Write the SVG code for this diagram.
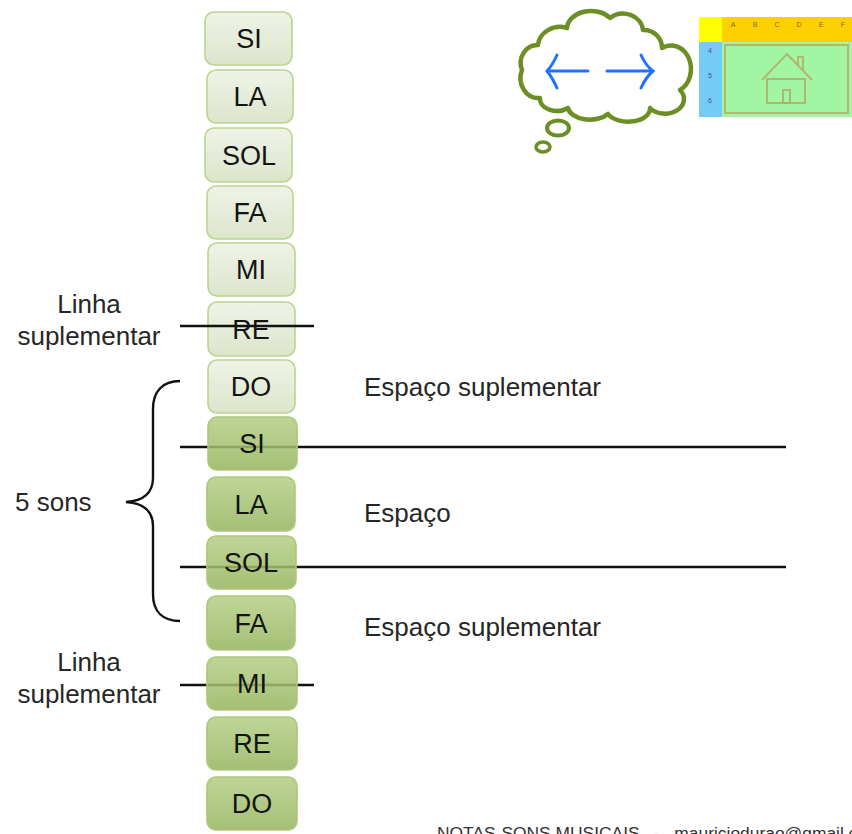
<svg xmlns="http://www.w3.org/2000/svg" width="852" height="834" viewBox="0 0 852 834">
  <defs>
    <linearGradient id="gLight" x1="0" y1="0" x2="0" y2="1">
      <stop offset="0" stop-color="#eff3e7"/>
      <stop offset="1" stop-color="#dce5cb"/>
    </linearGradient>
    <linearGradient id="gDark" x1="0" y1="0" x2="0" y2="1">
      <stop offset="0" stop-color="#b4ce84"/>
      <stop offset="1" stop-color="#95b45e"/>
    </linearGradient>
    <style>
      text { font-family: "Liberation Sans", Arial, sans-serif; }
      .light rect { fill: url(#gLight); stroke: #b9d58f; stroke-width: 1.6; }
      .dark rect { fill: url(#gDark); fill-opacity: 0.85; stroke: #aac97a; stroke-width: 1.6; }
      .lbl { font-size: 27px; fill: #141414; text-anchor: middle; }
      .note { font-size: 26px; fill: #262626; }
      .staff { stroke: #111; stroke-width: 2.4; fill: none; }
      .cell { font-size: 7px; fill: #7a6a40; text-anchor: middle; }
      .row { font-size: 7px; fill: #3a5a80; text-anchor: middle; }
    </style>
  </defs>

  <rect width="852" height="834" fill="#ffffff"/>

  <!-- upper notes (ledger region) -->
  <g id="n-si-hi" class="light"><rect x="205" y="12" width="87" height="53" rx="9"/><text class="lbl" x="249" y="48">SI</text></g>
  <g id="n-la-hi" class="light"><rect x="207" y="70" width="86" height="53" rx="9"/><text class="lbl" x="250" y="106">LA</text></g>
  <g id="n-sol-hi" class="light"><rect x="205" y="128" width="87" height="54" rx="9"/><text class="lbl" x="249" y="165">SOL</text></g>
  <g id="n-fa-hi" class="light"><rect x="207" y="186" width="86" height="53" rx="9"/><text class="lbl" x="250" y="222">FA</text></g>
  <g id="n-mi-hi" class="light"><rect x="208" y="243" width="87" height="53" rx="9"/><text class="lbl" x="251" y="279">MI</text></g>
  <g id="n-re-hi" class="light"><rect x="208" y="302" width="87" height="54" rx="9"/><text class="lbl" x="251" y="339">RE</text></g>
  <g id="n-do-hi" class="light"><rect x="208" y="360" width="87" height="53" rx="9"/><text class="lbl" x="251" y="396">DO</text></g>

  <!-- staff lines, ledger lines and the brace -->
  <g id="connectors">
    <line class="staff" x1="180" y1="326" x2="314" y2="326"/>
    <line class="staff" x1="180" y1="447" x2="786" y2="447"/>
    <line class="staff" x1="180" y1="567" x2="786" y2="567"/>
    <line class="staff" x1="180" y1="685" x2="314" y2="685"/>
    <path class="staff" d="M180,381 C163,381 153,391 153,409 L153,478 C153,493 143,501 126,502 C143,503 153,511 153,526 L153,594 C153,612 163,621 180,621"/>
  </g>

  <!-- lower notes -->
  <g id="n-si" class="dark"><rect x="208" y="417" width="89" height="53" rx="9"/><text class="lbl" x="252" y="453">SI</text></g>
  <g id="n-la" class="dark"><rect x="207" y="477" width="88" height="54" rx="9"/><text class="lbl" x="251" y="514">LA</text></g>
  <g id="n-sol" class="dark"><rect x="207" y="536" width="89" height="53" rx="9"/><text class="lbl" x="251" y="572">SOL</text></g>
  <g id="n-fa" class="dark"><rect x="207" y="596" width="88" height="54" rx="9"/><text class="lbl" x="251" y="633">FA</text></g>
  <g id="n-mi" class="dark"><rect x="207" y="657" width="90" height="53" rx="9"/><text class="lbl" x="252" y="693">MI</text></g>
  <g id="n-re" class="dark"><rect x="207" y="717" width="90" height="53" rx="9"/><text class="lbl" x="252" y="753">RE</text></g>
  <g id="n-do" class="dark"><rect x="207" y="777" width="90" height="53" rx="9"/><text class="lbl" x="252" y="813">DO</text></g>

  <!-- side labels -->
  <g id="labels">
    <text class="note" x="89" y="313" text-anchor="middle">Linha</text>
    <text class="note" x="89" y="345" text-anchor="middle">suplementar</text>
    <text class="note" x="89" y="671" text-anchor="middle">Linha</text>
    <text class="note" x="89" y="703" text-anchor="middle">suplementar</text>
    <text class="note" x="15" y="511">5 sons</text>
    <text class="note" x="364" y="396">Espaço suplementar</text>
    <text class="note" x="364" y="522">Espaço</text>
    <text class="note" x="364" y="636">Espaço suplementar</text>
  </g>

  <!-- thought cloud with arrows -->
  <g id="cloud">
    <path d="M540,98 A18,20 0 0 1 522,70 A17,18 0 0 1 538,45 A22,20 0 0 1 567,28 A24,18 0 0 1 610,18 A20,18 0 0 1 643,30 A18,18 0 0 1 662,48 A17,20 0 0 1 680,90 A18,14 0 0 1 650,108 A22,13 0 0 1 608,114 A22,13 0 0 1 568,108 A17,12 0 0 1 540,98 Z" fill="#ffffff" stroke="#6b8f24" stroke-width="4.5" stroke-linejoin="round"/>
    <ellipse cx="558" cy="128" rx="11" ry="7.5" fill="none" stroke="#6b8f24" stroke-width="4"/>
    <ellipse cx="543" cy="147" rx="7" ry="5" fill="none" stroke="#6b8f24" stroke-width="3.5"/>
    <g fill="none" stroke="#1f72ff" stroke-width="3" stroke-linecap="round">
      <line x1="588" y1="71" x2="548" y2="71"/>
      <path d="M557,55 Q552,66 547,71 Q552,77 557,88"/>
      <line x1="607" y1="71" x2="652" y2="71"/>
      <path d="M641,55 Q646,66 653,71 Q646,77 641,88"/>
    </g>
  </g>

  <!-- spreadsheet sketch with a house -->
  <g id="sheet">
    <rect x="699" y="17" width="153" height="100" fill="#a2f5a2"/>
    <rect x="699" y="17" width="153" height="25" fill="#ffd000"/>
    <rect x="699" y="17" width="23" height="25" fill="#ffff00"/>
    <rect x="699" y="42" width="23" height="75" fill="#74cbf6"/>
    <text class="cell" x="733" y="27">A</text>
    <text class="cell" x="755" y="27">B</text>
    <text class="cell" x="777" y="27">C</text>
    <text class="cell" x="799" y="27">D</text>
    <text class="cell" x="821" y="27">E</text>
    <text class="cell" x="843" y="27">F</text>
    <text class="row" x="710" y="53">4</text>
    <text class="row" x="710" y="78">5</text>
    <text class="row" x="710" y="103">6</text>
    <g fill="none" stroke="#b4a868" stroke-width="2" stroke-opacity="0.8">
      <rect x="725" y="45" width="123" height="68"/>
      <path d="M762,80 L787,54 L812,80"/>
      <path d="M798,65 L798,57 L803,57 L803,70"/>
      <rect x="767" y="79" width="38" height="24"/>
      <rect x="783" y="90" width="7" height="13"/>
    </g>
  </g>

  <!-- footer -->
  <text x="437" y="839" font-size="17.4" fill="#333333" xml:space="preserve">NOTAS-SONS MUSICAIS   -   mauriciodurao@gmail.com</text>
</svg>
